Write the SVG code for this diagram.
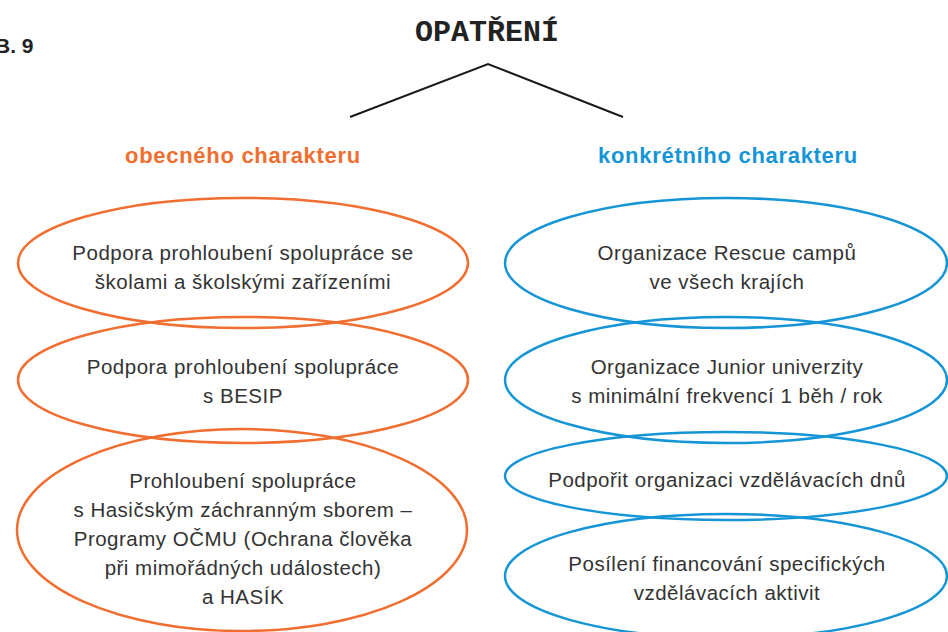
<svg xmlns="http://www.w3.org/2000/svg" width="948" height="632" viewBox="0 0 948 632">
<style>
.o{fill:none;stroke:#f06e30;stroke-width:2.5}
.b{fill:none;stroke:#1595d6;stroke-width:2.5}
.t{font-family:"Liberation Sans",Arial,sans-serif;font-size:20.5px;letter-spacing:0.5px;fill:#333;text-anchor:middle}
.h{font-family:"Liberation Sans",Arial,sans-serif;font-size:22px;letter-spacing:0.7px;font-weight:bold;text-anchor:middle}
</style>
<rect width="948" height="632" fill="#fff"/>
<text x="-5" y="53" font-family="Liberation Sans,Arial,sans-serif" font-size="21" font-weight="bold" fill="#222">B. 9</text>
<g id="title"><text x="487" y="41" font-family="Liberation Mono,DejaVu Sans Mono,monospace" font-size="30" font-weight="bold" fill="#222" text-anchor="middle">OPATŘENÍ</text></g>
<g id="connectors"><polyline points="350,117 488,64 623,117" fill="none" stroke="#1a1a1a" stroke-width="2"/></g>
<g id="h-left"><text class="h" x="243" y="163" fill="#f06e30">obecného charakteru</text></g>
<g id="h-right"><text class="h" x="728" y="163" fill="#1595d6">konkrétního charakteru</text></g>
<g id="l1"><ellipse class="o" cx="243" cy="263" rx="225" ry="65"/>
<text class="t" x="243" y="260">Podpora prohloubení spolupráce se</text><text class="t" x="243" y="289">školami a školskými zařízeními</text></g>
<g id="l2"><ellipse class="o" cx="243" cy="380" rx="225" ry="63"/>
<text class="t" x="243" y="374">Podpora prohloubení spolupráce</text><text class="t" x="243" y="403">s BESIP</text></g>
<g id="l3"><ellipse class="o" cx="242" cy="530" rx="225" ry="101"/>
<text class="t" x="243" y="488">Prohloubení spolupráce</text><text class="t" x="243" y="517">s Hasičským záchranným sborem –</text><text class="t" x="243" y="546">Programy OČMU (Ochrana člověka</text><text class="t" x="243" y="575">při mimořádných událostech)</text><text class="t" x="243" y="604">a HASÍK</text></g>
<g id="r1"><ellipse class="b" cx="726" cy="263" rx="221" ry="65"/>
<text class="t" x="727" y="260">Organizace Rescue campů</text><text class="t" x="727" y="289">ve všech krajích</text></g>
<g id="r2"><ellipse class="b" cx="726" cy="380" rx="221" ry="63"/>
<text class="t" x="727" y="374">Organizace Junior univerzity</text><text class="t" x="727" y="403">s minimální frekvencí 1 běh / rok</text></g>
<g id="r3"><ellipse class="b" cx="726" cy="476" rx="221" ry="44"/>
<text class="t" x="727" y="487">Podpořit organizaci vzdělávacích dnů</text></g>
<g id="r4"><ellipse class="b" cx="726" cy="576" rx="221" ry="62"/>
<text class="t" x="727" y="571">Posílení financování specifických</text><text class="t" x="727" y="600">vzdělávacích aktivit</text></g>
</svg>
